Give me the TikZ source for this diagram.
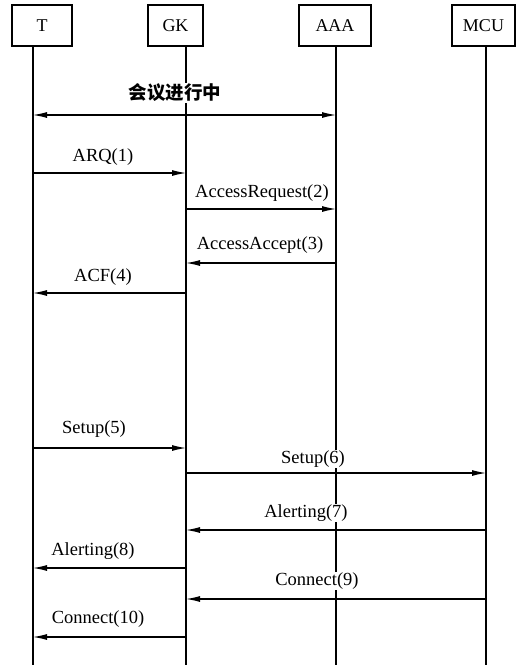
\documentclass[tikz,border=0pt]{standalone}
\usepackage{fontspec}
\setmainfont{Liberation Serif}
\newfontfamily\cjk{Noto Sans CJK SC}
\usetikzlibrary{arrows.meta}
\tikzset{
  actor/.style={draw, line width=1.5pt, minimum height=41pt, inner sep=0pt,
                font=\fontsize{18}{20}\selectfont},
  life/.style={line width=1.8pt},
  msg/.style={line width=1.1pt, -{Latex[length=14pt,width=6pt]}},
  both/.style={line width=1.1pt, {Latex[length=14pt,width=6pt]}-{Latex[length=14pt,width=6pt]}},
  lbl/.style={fill=white, inner sep=1pt, font=\fontsize{18.5}{20}\selectfont}
}
\begin{document}
\begin{tikzpicture}[x=1pt,y=-1pt]
\useasboundingbox (0,0) rectangle (517,665);
% actors
\node[actor, minimum width=60pt] (T)   at (42,25.5)    {T};
\node[actor, minimum width=55pt] (GK)  at (175.5,25.5) {GK};
\node[actor, minimum width=72pt] (AAA) at (335,25.5)   {AAA};
\node[actor, minimum width=63pt] (MCU) at (483.5,25.5) {MCU};
% lifelines
\coordinate (lT) at (33,46);   \coordinate (eT) at (33,665);
\coordinate (lG) at (186,46);  \coordinate (eG) at (186,665);
\coordinate (lA) at (336,46);  \coordinate (eA) at (336,665);
\coordinate (lM) at (486,46);  \coordinate (eM) at (486,665);
\draw[life] (lT) -- (eT);
\draw[life] (lG) -- (eG);
\draw[life] (lA) -- (eA);
\draw[life] (lM) -- (eM);
% messages
\draw[both] (lT |- 0,115) -- (lA |- 0,115);
\draw[msg] (lT |- 0,173) -- (lG |- 0,173);
\draw[msg] (lG |- 0,209) -- (lA |- 0,209);
\draw[msg] (lA |- 0,263) -- (lG |- 0,263);
\draw[msg] (lG |- 0,293) -- (lT |- 0,293);
\draw[msg] (lT |- 0,448) -- (lG |- 0,448);
\draw[msg] (lG |- 0,473) -- (lM |- 0,473);
\draw[msg] (lM |- 0,530) -- (lG |- 0,530);
\draw[msg] (lG |- 0,568) -- (lT |- 0,568);
\draw[msg] (lM |- 0,599) -- (lG |- 0,599);
\draw[msg] (lG |- 0,637) -- (lT |- 0,637);
% labels
\node[lbl, font=\cjk\bfseries\fontsize{18.5}{20}\selectfont] (c0) at (175,93) {会议进行中};
\node[lbl] (m1)  at (103,157) {ARQ(1)};
\node[lbl] (m2)  at (262,193) {AccessRequest(2)};
\node[lbl] (m3)  at (260,245) {AccessAccept(3)};
\node[lbl] (m4)  at (103,277) {ACF(4)};
\node[lbl] (m5)  at (94,429)  {Setup(5)};
\node[lbl] (m6)  at (313,459) {Setup(6)};
\node[lbl] (m7)  at (306,513) {Alerting(7)};
\node[lbl] (m8)  at (93,551)  {Alerting(8)};
\node[lbl] (m9)  at (317,581) {Connect(9)};
\node[lbl] (m10) at (98,619)  {Connect(10)};
\end{tikzpicture}
\end{document}
